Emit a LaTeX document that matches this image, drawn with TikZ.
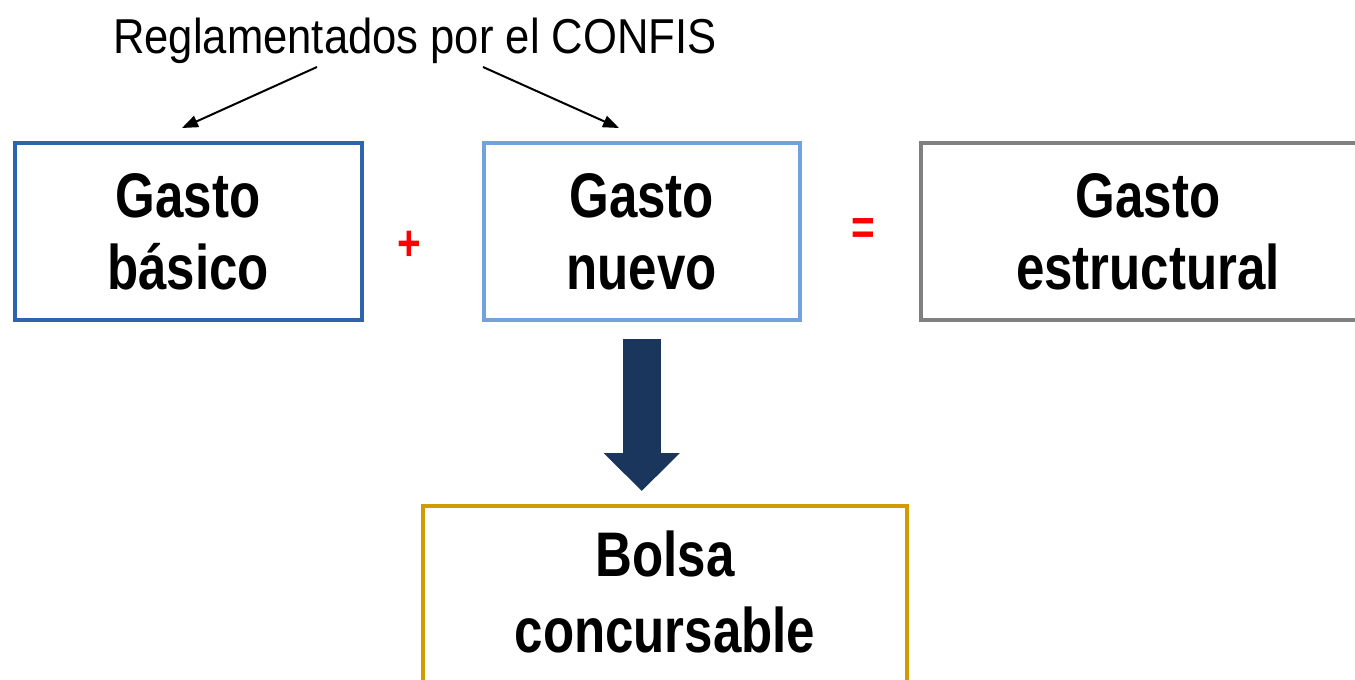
\documentclass[tikz,border=0pt]{standalone}
\usepackage{fontspec}
\setmainfont{Liberation Sans}
\newfontfamily\titlefont{Liberation Sans}[FakeStretch=0.89]
\newfontfamily\boxfont{Liberation Sans}[FakeStretch=0.81]
\usetikzlibrary{arrows.meta}
\definecolor{cbasic}{RGB}{46,100,174}
\definecolor{cnew}{RGB}{113,162,221}
\definecolor{cstruct}{RGB}{128,128,128}
\definecolor{cbolsa}{RGB}{207,157,0}
\definecolor{cnavy}{RGB}{27,54,93}
\begin{document}
\begin{tikzpicture}[x=1pt,y=-1pt,
  gbox/.style={draw, line width=4pt, outer sep=0pt, inner sep=0pt, align=center,
    font=\boxfont\bfseries\fontsize{63}{72}\selectfont},
  btext/.style={inner sep=0pt, align=center, font=\boxfont\bfseries\fontsize{63}{76}\selectfont},
  sign/.style={inner sep=0pt, text=red, font=\boxfont\bfseries\fontsize{50}{50}\selectfont},
  thinarrow/.style={line width=2pt, -{Triangle[length=16pt,width=12pt]}},
  bigarrow/.style={draw=cnavy, line width=38pt, -{Triangle[length=38pt,width=74pt]}}
]
\useasboundingbox (0,0) rectangle (1355,680);
\clip (0,0) rectangle (1355,680);

\node[anchor=base, inner sep=0pt, font=\titlefont\fontsize{49}{49}\selectfont] (title) at (415,53) {Reglamentados por el CONFIS};

\node[gbox, draw=cbasic, minimum width=347pt, minimum height=177pt] (b1) at (188,231.5) {Gasto\\básico};
\node[gbox, draw=cnew, minimum width=316.5pt, minimum height=177pt] (b2) at (641.75,231.5) {Gasto\\nuevo};
\node[gbox, draw=cstruct, minimum width=454pt, minimum height=177pt] (b3) at (1148,231.5) {Gasto\\estructural};
\node[gbox, draw=cbolsa, minimum width=484pt, minimum height=190pt] (b4) at (665,601) {};
\node[btext] (b4t) at (665,592) {Bolsa\\concursable};

\node[sign] (plus) at (409,246) {+};
\node[sign] (eq) at (863,231.5) {=};

\coordinate (a1s) at (317,67);
\coordinate (a1e) at (182,128);
\coordinate (a2s) at (483,67);
\coordinate (a2e) at (619,128);
\draw[thinarrow] (a1s) -- (a1e);
\draw[thinarrow] (a2s) -- (a2e);

\draw[bigarrow] ([yshift=-19pt]b2.south) -- ([yshift=15pt]b2.south |- b4.north);
\end{tikzpicture}
\end{document}
